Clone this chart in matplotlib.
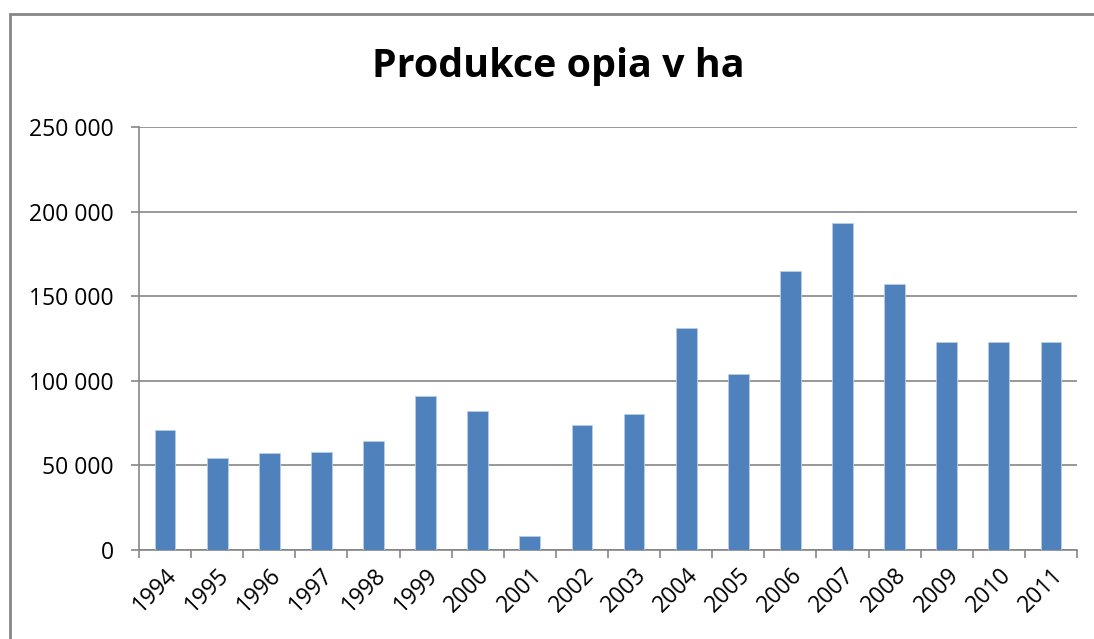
import numpy as np
import matplotlib.pyplot as plt
from matplotlib.patches import Rectangle
from matplotlib.ticker import FuncFormatter

years = ['1994', '1995', '1996', '1997', '1998', '1999', '2000', '2001', '2002',
         '2003', '2004', '2005', '2006', '2007', '2008', '2009', '2010', '2011']
hectares = [71000, 54000, 57000, 58000, 64000, 91000, 82000, 8000, 74000,
            80000, 131000, 104000, 165000, 193000, 157000, 123000, 123000, 123000]
title = 'Produkce opia v ha'

plt.rcParams['font.family'] = ['Open Sans', 'DejaVu Sans']
grey = '#868686'

fig = plt.figure(figsize=(10.94, 6.39), dpi=100)
# outer chart frame
fig.patches.append(Rectangle((10 / 1094, -0.1), 1.2, 1 - 14 / 639 + 0.1,
                             transform=fig.transFigure, fill=False,
                             edgecolor=grey, linewidth=2))

ax = fig.add_axes([139 / 1094, 1 - 549.7 / 639, (1077 - 139) / 1094, (549.7 - 127) / 639])
x = np.arange(len(years))
ax.bar(x, hectares, width=0.4, color='#4F81BD', edgecolor='#B9CDE5', linewidth=0.6, zorder=3)

ax.set_xlim(-0.5, len(years) - 0.5)
ax.set_ylim(0, 250000)
ax.set_yticks(np.arange(0, 250001, 50000))
ax.yaxis.set_major_formatter(FuncFormatter(lambda v, p: f'{int(v):,}'.replace(',', ' ')))
ax.grid(axis='y', color=grey, linewidth=1.2, zorder=0)

ax.set_xticks(np.arange(-0.5, len(years), 1.0))
ax.set_xticklabels([])
ax.set_xticks(x, minor=True)
ax.set_xticklabels(years, minor=True, rotation=45, ha='right', rotation_mode='anchor', fontsize=16.5)
ax.tick_params(axis='x', which='minor', length=0, pad=10)
ax.tick_params(axis='x', which='major', length=6, color=grey, width=1.2)
ax.tick_params(axis='y', length=6, color=grey, width=1.2, labelsize=16.5, pad=12)

for s in ['top', 'right']:
    ax.spines[s].set_visible(False)
for s in ['left', 'bottom']:
    ax.spines[s].set_color(grey)
    ax.spines[s].set_linewidth(1.2)

fig.text(558 / 1094, 1 - 66 / 639, title, ha='center', va='center',
         fontsize=28.4, fontweight='bold')

fig.savefig('out.png', dpi=100)
